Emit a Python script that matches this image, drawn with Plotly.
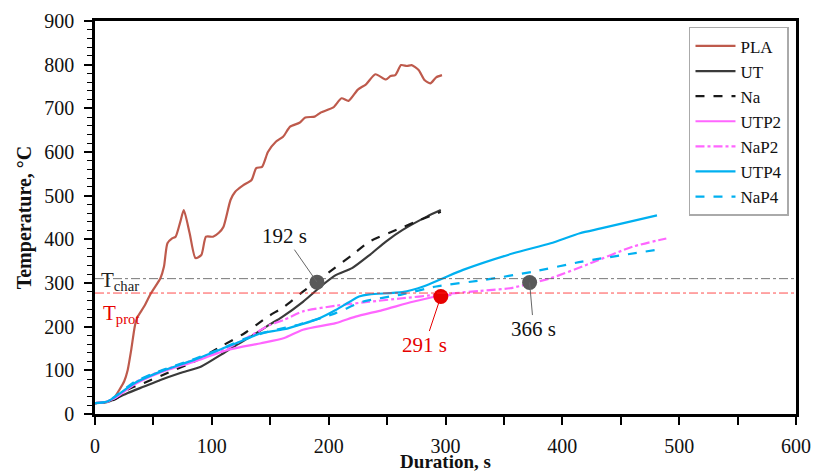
import plotly.graph_objects as go

# ---- data ----
t_PLA = [0, 10, 16, 21, 25, 28, 31, 34, 36, 42, 48, 56, 59, 62, 66, 69, 73, 76, 81, 86, 91, 95, 101, 106, 110, 116, 120, 127, 134, 138, 143, 148, 155, 161, 167, 175, 180, 188, 193, 204, 211, 217, 225, 232, 240, 249, 253, 257, 262, 267, 271, 277, 282, 287, 292, 297]
y_PLA = [25, 28, 36, 56, 75, 101, 147, 200, 220, 246, 277, 311, 337, 391, 402, 406, 440, 467, 414, 357, 364, 406, 406, 415, 429, 490, 509, 524, 536, 563, 566, 600, 624, 635, 658, 667, 679, 681, 690, 702, 723, 717, 743, 755, 778, 766, 774, 776, 799, 797, 799, 788, 765, 757, 771, 776]

t_UT = [0, 10, 16, 28, 42, 56, 73, 91, 108, 119, 135, 149, 160, 178, 195, 206, 220, 235, 249, 263, 284, 296]
y_UT = [25, 27, 33, 48, 63, 78, 94, 109, 136, 155, 180, 204, 222, 257, 296, 318, 334, 364, 395, 421, 452, 467]

t_Na = [0, 10, 18, 28, 42, 62, 85, 108, 128, 148, 162, 178, 201, 220, 235, 261, 278, 296]
y_Na = [25, 27, 35, 56, 71, 94, 120, 155, 185, 223, 246, 280, 326, 364, 395, 425, 444, 463]

t_UTP2 = [0, 10, 18, 34, 56, 85, 114, 142, 162, 178, 206, 223, 246, 272, 292, 305]
y_UTP2 = [25, 28, 38, 68, 95, 120, 147, 162, 174, 193, 208, 223, 238, 257, 269, 273]

t_NaP2 = [0, 10, 18, 34, 56, 85, 114, 135, 149, 162, 178, 206, 235, 263, 292, 309, 330, 355, 389, 423, 460, 489]
y_NaP2 = [25, 28, 38, 72, 98, 124, 152, 182, 203, 216, 235, 248, 257, 265, 273, 277, 282, 288, 310, 344, 383, 402]

t_UTP4 = [0, 10, 16, 34, 56, 85, 114, 128, 142, 162, 192, 206, 218, 226, 235, 263, 281, 298, 315, 358, 390, 415, 433, 481]
y_UTP4 = [25, 28, 37, 71, 97, 124, 155, 170, 185, 194, 219, 238, 257, 269, 274, 279, 292, 311, 330, 368, 391, 414, 425, 455]

t_NaP4 = [0, 10, 16, 34, 56, 85, 114, 128, 149, 175, 206, 229, 263, 292, 333, 375, 417, 481]
y_NaP4 = [25, 28, 38, 74, 99, 126, 156, 172, 189, 205, 231, 257, 274, 292, 307, 326, 349, 376]

T_char = 310
T_prot = 277

series_names = ["PLA", "UT", "Na", "UTP2", "NaP2", "UTP4", "NaP4"]
series_t = [t_PLA, t_UT, t_Na, t_UTP2, t_NaP2, t_UTP4, t_NaP4]
series_y = [y_PLA, y_UT, y_Na, y_UTP2, y_NaP2, y_UTP4, y_NaP4]
series_color = ["#BE5A4C", "#3A3A3A", "#1A1A1A", "#FF66FF", "#FF66FF", "#00B0F0", "#00B0F0"]
series_dash = ["solid", "solid", "dash", "solid", "dashdot", "solid", "dash"]

marker_t = [190, 372]
marker_y = [302, 301]
marker_lbl = ["192 s", "366 s"]
red_t = [296]
red_y = [269]
red_lbl = ["291 s"]

FONT = "Liberation Serif"

fig = go.Figure()
for n, tt, yy, c, d in zip(series_names, series_t, series_y, series_color, series_dash):
    fig.add_trace(go.Scatter(x=tt, y=yy, mode="lines", name=n,
                             line=dict(color=c, width=2.2, dash=d, shape="spline", smoothing=0.6)))

# threshold lines
fig.add_shape(type="line", xref="paper", x0=0, x1=1, yref="y", y0=T_char, y1=T_char,
              line=dict(color="#555555", width=0.8, dash="dashdot"))
fig.add_shape(type="line", xref="paper", x0=0, x1=1, yref="y", y0=T_prot, y1=T_prot,
              line=dict(color="#FF2020", width=0.8, dash="dashdot"))

fig.add_trace(go.Scatter(x=marker_t, y=marker_y, mode="markers", showlegend=False,
                         marker=dict(color="#595959", size=15)))
fig.add_trace(go.Scatter(x=red_t, y=red_y, mode="markers", showlegend=False,
                         marker=dict(color="#E60000", size=15)))

# annotations with leader lines
fig.add_annotation(x=marker_t[0], y=marker_y[0], text=marker_lbl[0], showarrow=True, arrowhead=0,
                   ax=-32, ay=-46, arrowcolor="#666666", arrowwidth=1,
                   font=dict(family=FONT, size=21, color="#111111"))
fig.add_annotation(x=marker_t[1], y=marker_y[1], text=marker_lbl[1], showarrow=True, arrowhead=0,
                   ax=4, ay=46, arrowcolor="#666666", arrowwidth=1,
                   font=dict(family=FONT, size=21, color="#111111"))
fig.add_annotation(x=red_t[0], y=red_y[0], text=red_lbl[0], showarrow=True, arrowhead=0,
                   ax=-16, ay=48, arrowcolor="#E60000", arrowwidth=1,
                   font=dict(family=FONT, size=21, color="#E60000"))

fig.add_annotation(xref="paper", x=0.006, y=T_char, yref="y", text="T<sub>char</sub>", showarrow=False,
                   xanchor="left", yanchor="middle", yshift=-2,
                   font=dict(family=FONT, size=21, color="#222222"))
fig.add_annotation(xref="paper", x=0.008, y=T_prot, yref="y", text="T<sub>prot</sub>", showarrow=False,
                   xanchor="left", yanchor="top", yshift=-6,
                   font=dict(family=FONT, size=21, color="#E60000"))

axis_common = dict(showline=True, linecolor="black", linewidth=2.5, mirror=True,
                   ticks="outside", tickcolor="black", tickwidth=1.5, ticklen=8,
                   showgrid=False, zeroline=False, automargin=False,
                   tickfont=dict(family=FONT, size=20, color="#111111"))

fig.update_xaxes(range=[0, 600], dtick=100, tick0=0,
                 minor=dict(dtick=50, ticks="outside", ticklen=8, tickcolor="black", tickwidth=1.5),
                 title=dict(text="<b>Duration, s</b>", font=dict(family=FONT, size=19, color="#111111"), standoff=1),
                 ticklabelstandoff=4,
                 **axis_common)
fig.update_yaxes(range=[0, 900], dtick=100, tick0=0,
                 minor=dict(dtick=20, ticks="outside", ticklen=5, tickcolor="black", tickwidth=1.2),
                 title=dict(text="<b>Temperature, °C</b>", font=dict(family=FONT, size=20, color="#111111"), standoff=8),
                 ticklabelstandoff=6,
                 **axis_common)

fig.update_layout(
    width=813, height=472,
    margin=dict(l=95, r=17, t=21, b=58),
    paper_bgcolor="white", plot_bgcolor="white",
    font=dict(family=FONT, size=19, color="#111111"),
    legend=dict(x=0.99, y=0.985, xanchor="right", yanchor="top",
                bgcolor="white", bordercolor="#AAAAAA", borderwidth=1.5,
                font=dict(family=FONT, size=17, color="#111111"),
                tracegroupgap=0, itemwidth=40),
    showlegend=True,
)

fig.write_html("out.html", config={"displayModeBar": False},
               post_script="document.body.style.margin='0';document.body.style.overflow='hidden';")
